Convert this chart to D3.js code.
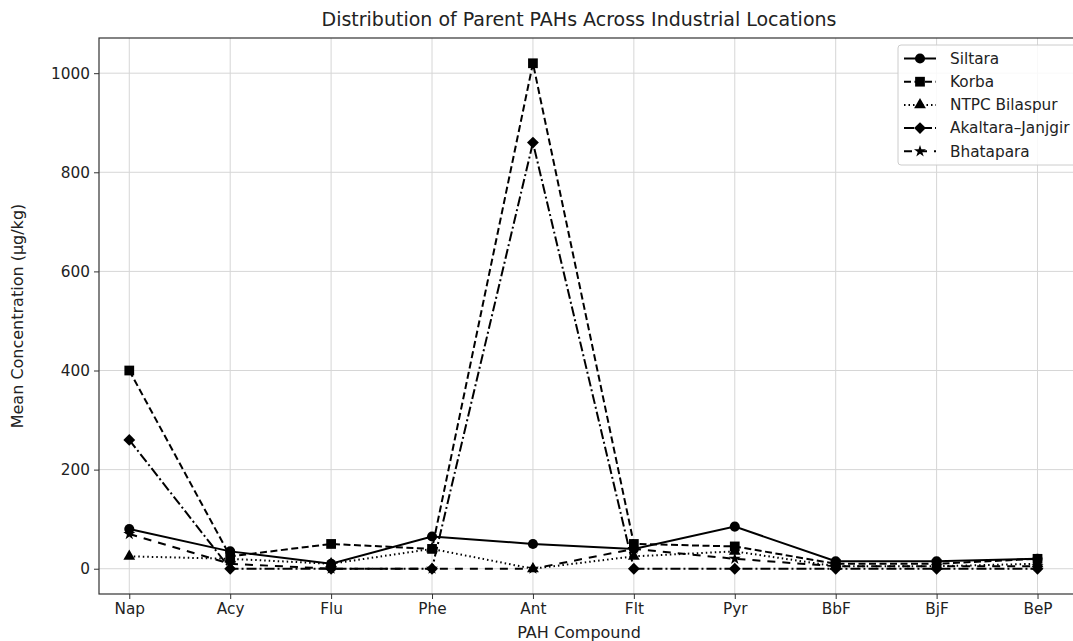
<!DOCTYPE html>
<html>
<head>
<meta charset="utf-8">
<script src="https://cdn.jsdelivr.net/npm/d3@7"></script>
<style>
  body { margin: 0; background: #fff; }
  svg { display: block; font-family: "DejaVu Sans", sans-serif; }
</style>
</head>
<body>
<div id="chart"></div>
<script>
// PAH compounds on the x axis
const compounds = ["Nap", "Acy", "Flu", "Phe", "Ant", "Flt", "Pyr", "BbF", "BjF", "BeP"];
const yTicks = [0, 200, 400, 600, 800, 1000];

// mean concentration (ug/kg) per location
const siltara   = [80, 35, 10, 65, 50, 40, 85, 15, 15, 20];
const korba     = [400, 25, 50, 40, 1020, 50, 45, 10, 10, 20];
const ntpc      = [25, 20, 10, 40, 0, 25, 35, 5, 5, 10];
const akaltara  = [260, 0, 0, 0, 860, 0, 0, 0, 0, 0];
const bhatapara = [70, 10, 0, 0, 0, 40, 20, 5, 5, 5];

const locations = ["Siltara", "Korba", "NTPC Bilaspur", "Akaltara\u2013Janjgir", "Bhatapara"];
const seriesValues = [siltara, korba, ntpc, akaltara, bhatapara];

let width = 1073, height = 641;
let margin = {top: 38, right: -17, bottom: 47, left: 99};
let plotW = width - margin.left - margin.right;
let plotH = height - margin.top - margin.bottom;
let fs = 15.3;
let labelX = 579;  // title / x label centre as seen in the picture

let svg = d3.select("#chart")
  .append("svg")
    .attr("width", width)
    .attr("height", height);

let g = svg.append("g")
    .attr("transform", "translate(" + margin.left + "," + margin.top + ")");

let x = d3.scaleLinear()
    .domain([-0.3, compounds.length - 1 + 0.52])
    .range([0, plotW]);

let y = d3.scaleLinear()
    .domain([-51, 1071])
    .range([plotH, 0]);

// grid
g.append("g")
  .selectAll("line")
  .data(compounds)
  .enter().append("line")
    .attr("x1", (d, i) => x(i)).attr("x2", (d, i) => x(i))
    .attr("y1", 0).attr("y2", plotH)
    .attr("stroke", "#d6d6d6").attr("stroke-width", 1);

g.append("g")
  .selectAll("line")
  .data(yTicks)
  .enter().append("line")
    .attr("x1", 0).attr("x2", plotW)
    .attr("y1", d => y(d)).attr("y2", d => y(d))
    .attr("stroke", "#d6d6d6").attr("stroke-width", 1);

// axes
let xAxis = g.append("g")
    .attr("transform", "translate(0," + plotH + ")")
    .call(d3.axisBottom(x)
      .tickValues(d3.range(compounds.length))
      .tickFormat(i => compounds[i])
      .tickSize(5).tickPadding(4).tickSizeOuter(0));

let yAxis = g.append("g")
    .call(d3.axisLeft(y)
      .tickValues(yTicks)
      .tickFormat(d3.format("d"))
      .tickSize(5).tickPadding(4).tickSizeOuter(0));

[xAxis, yAxis].forEach(a => {
  a.select(".domain").remove();
  a.selectAll("text").attr("font-size", fs).attr("fill", "#222")
    .attr("font-family", "DejaVu Sans");
  a.selectAll("line").attr("stroke", "#333");
});

// frame
g.append("rect")
    .attr("width", plotW).attr("height", plotH)
    .attr("fill", "none").attr("stroke", "#333").attr("stroke-width", 1.2);

// line styles and markers
let dashes = [null, "7,3.5", "1.5,3", "10,3,2,3", "8,7"];
let markers = [
  d3.symbol().type(d3.symbolCircle).size(80),
  d3.symbol().type(d3.symbolSquare).size(95),
  d3.symbol().type(d3.symbolTriangle).size(60),
  d3.symbol().type(d3.symbolSquare).size(70),
  d3.symbol().type(d3.symbolStar).size(45)
];
let markerRotate = [0, 0, 0, 45, 0];

let line = d3.line()
    .x((d, i) => x(i))
    .y(d => y(d));

let plot = g.append("g");

seriesValues.forEach((vals, s) => {
  plot.append("path")
    .datum(vals)
    .attr("d", line)
    .attr("fill", "none")
    .attr("stroke", "#000")
    .attr("stroke-width", 2)
    .attr("stroke-dasharray", dashes[s]);

  plot.append("g")
    .selectAll("path")
    .data(vals)
    .enter().append("path")
      .attr("d", markers[s])
      .attr("transform", (d, i) => "translate(" + x(i) + "," + y(d) + ") rotate(" + markerRotate[s] + ")")
      .attr("fill", "#000");
});

// legend
let legend = g.append("g")
    .attr("transform", "translate(" + (898 - margin.left) + ",7)");

legend.append("rect")
    .attr("width", 185).attr("height", 120)
    .attr("rx", 3)
    .attr("fill", "#fff").attr("fill-opacity", 0.85)
    .attr("stroke", "#ccc");

let item = legend.selectAll(".legend")
  .data(locations)
  .enter().append("g")
    .attr("class", "legend")
    .attr("transform", (d, i) => "translate(0," + (13.5 + i * 23.2) + ")");

item.append("line")
    .attr("x1", 6).attr("x2", 38)
    .attr("stroke", "#000").attr("stroke-width", 2)
    .attr("stroke-dasharray", (d, i) => dashes[i]);

item.append("path")
    .attr("d", (d, i) => markers[i]())
    .attr("transform", (d, i) => "translate(22,0) rotate(" + markerRotate[i] + ")")
    .attr("fill", "#000");

item.append("text")
    .attr("x", 52)
    .attr("dy", "0.35em")
    .attr("font-size", fs)
    .attr("fill", "#222")
    .text(d => d);

// titles
svg.append("text")
    .attr("x", labelX)
    .attr("y", 26)
    .attr("text-anchor", "middle")
    .attr("font-size", 19)
    .attr("fill", "#222")
    .text("Distribution of Parent PAHs Across Industrial Locations");

svg.append("text")
    .attr("x", labelX)
    .attr("y", 638)
    .attr("text-anchor", "middle")
    .attr("font-size", 16)
    .attr("fill", "#222")
    .text("PAH Compound");

svg.append("text")
    .attr("transform", "translate(23," + (margin.top + plotH / 2) + ") rotate(-90)")
    .attr("text-anchor", "middle")
    .attr("font-size", 16)
    .attr("fill", "#222")
    .text("Mean Concentration (\u00b5g/kg)");
</script>
</body>
</html>
